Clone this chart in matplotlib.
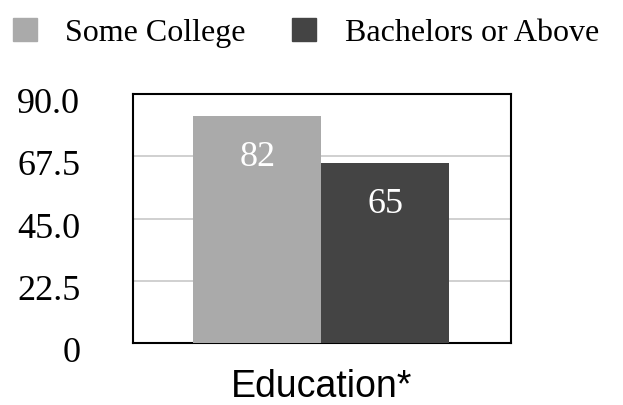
import matplotlib
matplotlib.use("Agg")
import matplotlib.pyplot as plt
import matplotlib.patheffects as pe
import matplotlib.transforms as mtrans
import numpy as np

# data
series = ["Some College", "Bachelors or Above"]
values = [82, 65]
colors = ["#aaaaaa", "#444444"]
yticks = [0, 22.5, 45.0, 67.5, 90.0]
ytick_labels = ["0", "22.5", "45.0", "67.5", "90.0"]
xlabel = "Education*"

serif = ["Liberation Serif", "DejaVu Serif"]

fig = plt.figure(figsize=(6.23, 4.06), dpi=100)
ax = fig.add_axes([133/623, 1-344/406, (511-133)/623, (344-95)/406])

x = np.arange(len(values))
shadow = [pe.SimplePatchShadow(offset=(0, 0), shadow_rgbFace="#999999", alpha=0.5), pe.Normal()]
bars = ax.bar(x, values, width=1.0, color=colors, zorder=3, path_effects=shadow)
for b, v in zip(bars, values):
    ax.text(b.get_x() + b.get_width()/2, v - 8.5, str(v), ha="center", va="top",
            color="white", fontsize=26, family=serif, zorder=4)

ax.set_xlim(-0.97, 1.98)
ax.set_ylim(0, 90)
ax.set_yticks(yticks)
ax.set_yticklabels(ytick_labels, family=serif, fontsize=26)
ax.tick_params(axis="y", length=0, pad=38)
# labels sit a little below their gridlines in the original
off = mtrans.ScaledTranslation(0, -4/72, fig.dpi_scale_trans)
for t in ax.get_yticklabels():
    t.set_transform(t.get_transform() + off)
ax.set_xticks([])
ax.yaxis.grid(True, color="#c8c8c8", linewidth=1.2, zorder=0)
for s in ax.spines.values():
    s.set_linewidth(1.5)
    s.set_color("black")

ax.set_xlabel(xlabel, family=["Liberation Sans", "DejaVu Sans"], fontsize=27, labelpad=18)

# legend
handles = [plt.Rectangle((0, 0), 1, 1, color=c) for c in colors]
fig.legend(handles, series, loc="upper left", bbox_to_anchor=(-0.026, 1.025), ncol=2,
           frameon=False, prop={"family": serif, "size": 23}, handlelength=0.75,
           handleheight=0.75, handletextpad=0.9, columnspacing=1.45)

fig.savefig("out.png", dpi=100)
